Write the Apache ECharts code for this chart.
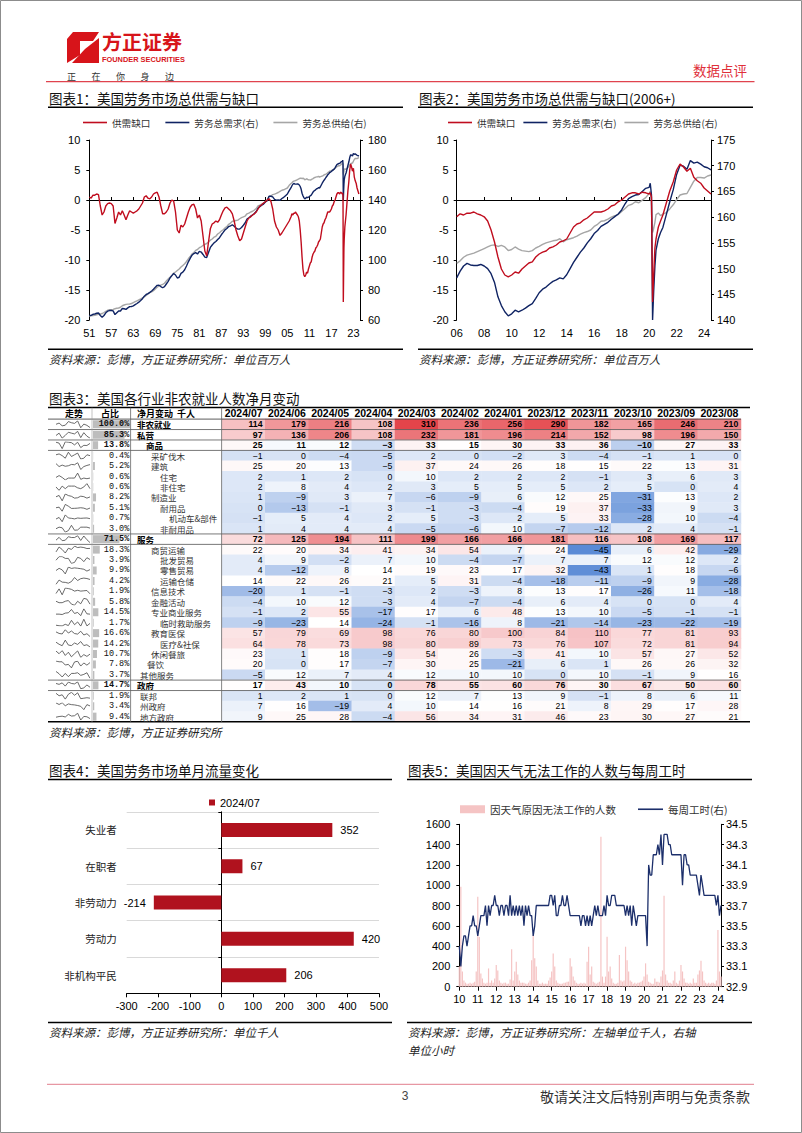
<!DOCTYPE html>
<html><head><meta charset="utf-8"><title>美国劳务市场</title>
<script src="https://cdn.jsdelivr.net/npm/echarts@6/dist/echarts.min.js"></script>
<style>html,body{margin:0;padding:0;background:#fff;}#page{width:802px;height:1133px;}</style>
</head><body><div id="page"></div>
<script>
// ================= DATA =================
// Chart 1 (1951-2005, half-yearly), units: million
const histGap = [0.5,0.3, 0.8,0.8, 1.0,0.9, -1.0,-2.5, -2.0,-1.0, -0.6,-0.5, -0.6,-1.0, -3.9,-3.0, -2.0,-2.5, -1.8,-2.5,
  -3.3,-2.5, -1.8,-2.0, -2.2,-2.0, -1.8,-1.5, -1.0,-0.5, 0.5,0.7, 0.3,0.2, 0.5,1.0, 1.2,1.3, 0.5,-1.0,
  -2.3,-2.3, -2.0,-1.5, -0.5,0.0, -0.2,-2.0, -5.0,-5.5, -4.2,-4.5, -4.0,-3.0, -2.0,-1.2, -0.8,-0.7, -1.5,-3.0,
  -2.5,-3.5, -6.0,-8.5, -9.3,-7.0, -4.8,-4.0, -3.8,-3.5, -3.7,-3.3, -2.5,-1.8, -1.3,-1.2, -1.5,-1.8, -2.3,-3.5,
  -5.0,-6.0, -6.8,-6.5, -5.5,-4.5, -3.5,-3.0, -2.8,-2.5, -2.3,-2.0, -1.5,-1.0, -0.8,-0.5, -0.3,0.0, 0.2,-0.2,
  -1.5,-3.5, -4.5,-5.0, -5.9,-5.5, -5.0,-4.5, -4.0,-3.5];
const histDemand = [63.0,63.1, 63.8,64.0, 64.5,64.7, 63.0,61.8, 63.0,64.8, 65.9,66.3, 66.3,66.1, 63.6,64.8, 66.0,66.0, 67.7,67.5,
  67.1,68.1, 68.9,69.0, 69.4,70.2, 71.0,71.9, 73.0,74.2, 75.9,77.0, 77.6,78.4, 79.3,80.5, 81.9,83.1, 83.2,82.3,
  81.5,82.2, 84.0,85.8, 88.0,89.6, 91.0,90.0, 88.0,88.5, 91.1,91.9, 93.5,96.0, 98.8,101.1, 103.2,104.3, 104.9,104.0,
  105.7,105.3, 103.7,101.9, 101.7,105.0, 108.4,110.0, 111.4,112.3, 113.6,114.9, 116.8,118.4, 120.1,121.0, 122.3,122.8, 123.5,122.5,
  121.3,120.6, 120.7,121.7, 123.2,124.8, 127.3,128.2, 129.2,130.0, 131.0,132.3, 134.5,135.6, 136.5,137.3, 138.7,139.6, 142.5,142.5,
  142.1,140.4, 139.9,140.0, 139.9,141.0, 141.8,142.9, 144.0,146.3];
const histSupply = [62.5,62.8, 63.0,63.2, 63.5,63.8, 64.0,64.3, 65.0,65.8, 66.5,66.8, 66.9,67.1, 67.5,67.8, 68.0,68.5, 69.5,70.0,
  70.4,70.6, 70.7,71.0, 71.6,72.2, 72.8,73.4, 74.0,74.7, 75.4,76.3, 77.3,78.2, 78.8,79.5, 80.7,81.8, 82.7,83.3,
  83.8,84.5, 86.0,87.3, 88.5,89.6, 91.2,92.0, 93.0,94.0, 95.3,96.4, 97.5,99.0, 100.8,102.3, 104.0,105.0, 106.4,107.0,
  108.2,108.8, 109.7,110.4, 111.0,112.0, 113.2,114.0, 115.2,115.8, 117.3,118.2, 119.3,120.2, 121.4,122.2, 123.8,124.6, 125.8,126.0,
  126.3,126.6, 127.5,128.2, 128.7,129.3, 130.8,131.2, 132.0,132.5, 133.3,134.3, 136.0,136.6, 137.3,137.8, 139.0,139.6, 142.3,142.7,
  143.6,143.9, 144.4,145.0, 145.8,146.5, 146.8,147.4, 148.0,149.8];
// Chart 2 (2006+)
const recYears = [2006,2006.25,2006.5,2006.75, 2007,2007.25,2007.5,2007.75, 2008,2008.25,2008.5,2008.75, 2009,2009.25,2009.5,2009.75,
  2010,2010.25,2010.5,2010.75, 2011,2011.25,2011.5,2011.75, 2012,2012.25,2012.5,2012.75, 2013,2013.25,2013.5,2013.75,
  2014,2014.25,2014.5,2014.75, 2015,2015.25,2015.5,2015.75, 2016,2016.25,2016.5,2016.75, 2017,2017.25,2017.5,2017.75,
  2018,2018.25,2018.5,2018.75, 2019,2019.25,2019.5,2019.75,
  2020,2020.08,2020.17,2020.25,2020.33,2020.42,2020.5,2020.67,2020.83,
  2021,2021.25,2021.5,2021.75, 2022,2022.25,2022.5,2022.75, 2023,2023.25,2023.5,2023.75, 2024,2024.25,2024.5];
const recGap = [-2.8,-2.3,-2.5,-2.2, -2.2,-2.0,-2.3,-2.5, -2.8,-3.5,-5.0,-7.0, -9.5,-11.5,-12.5,-12.8,
  -12.5,-12.0,-12.2,-11.5, -11.0,-10.5,-10.3,-9.5, -9.0,-8.7,-8.5,-8.0, -7.8,-7.5,-7.0,-6.8,
  -6.5,-5.5,-4.5,-4.0, -3.8,-3.3,-3.0,-2.5, -2.0,-2.0,-2.0,-1.8, -1.5,-1.0,-0.8,-0.3,
  0.0,0.5,1.0,1.2, 1.2,1.0,1.3,1.2,
  1.0,1.2,0.5,-17.0,-12.5,-8.0,-6.5,-4.5,-3.5,
  -2.5,-0.5,1.5,3.0, 5.0,6.0,5.5,4.8, 5.3,3.8,3.2,2.8, 2.0,1.5,1.0];
const recDemand = [148.2,149.5,150.5,151.0, 150.7,150.6,150.6,150.8, 150.5,150.0,149.0,147.3, 144.5,142.8,141.6,140.8,
  141.2,141.9,141.6,141.9, 142.3,142.8,143.2,144.2, 145.3,146.0,146.4,147.0, 147.5,147.8,148.2,148.0,
  148.8,150.0,151.2,152.2, 153.2,154.0,155.0,155.8, 156.8,157.4,158.2,158.6, 159.0,159.6,160.1,160.6,
  161.4,162.6,163.6,164.0, 164.3,164.4,165.0,165.6,
  165.8,166.6,164.3,140.0,145.5,150.5,153.6,155.8,157.0,
  158.0,160.5,163.0,165.3, 168.3,170.1,169.9,169.3, 171.0,170.5,170.7,170.3, 169.8,169.6,169.2];
const recSupply = [151.0,151.5,152.2,152.6, 152.8,153.0,153.3,153.6, 153.9,154.2,154.5,154.6, 154.3,154.5,154.2,153.5,
  153.7,154.2,153.8,153.5, 153.4,153.3,153.5,154.0, 154.3,154.7,155.0,155.2, 155.4,155.5,155.8,155.2,
  155.6,155.8,156.0,156.3, 156.7,157.0,157.2,157.5, 158.2,158.6,159.2,159.3, 159.6,160.0,160.3,160.5,
  161.1,161.7,162.3,162.5, 163.0,162.8,163.3,163.8,
  164.6,165.0,163.2,157.0,157.8,159.0,160.5,160.8,160.3,
  160.6,160.9,161.6,162.4, 163.4,164.3,164.5,164.6, 165.8,167.0,167.7,167.7, 167.6,168.0,168.2];

// Table 3: non-farm payroll net monthly change (thousand)
const tableMonths = ['2024/07','2024/06','2024/05','2024/04','2024/03','2024/02','2024/01','2023/12','2023/11','2023/10','2023/09','2023/08'];
const rowNames = ['非农就业','私营','商品','采矿伐木','建筑','住宅','非住宅','制造业','耐用品','机动车&部件','非耐用品',
  '服务','商贸运输','批发贸易','零售贸易','运输仓储','信息技术','金融活动','专业商业服务','临时救助服务','教育医保','医疗&社保',
  '休闲餐旅','餐饮','其他服务','政府','联邦','州政府','地方政府'];
const rowShares = [100.0,85.3,13.8,0.4,5.2,0.6,0.6,8.2,5.1,0.7,3.0,71.5,18.3,3.9,9.9,4.2,1.9,5.8,14.5,1.7,16.6,14.2,10.7,7.8,3.7,14.7,1.9,3.4,9.4];
const netChange = [
  [114,179,216,108,310,236,256,290,182,165,246,210],
  [97,136,206,108,232,181,196,214,152,98,196,150],
  [25,11,12,-3,33,15,30,33,36,-10,27,33],
  [-1,0,-4,-5,2,0,-2,3,-4,-1,1,0],
  [25,20,13,-5,37,24,26,18,15,22,13,31],
  [2,1,2,0,10,2,2,2,-1,3,6,3],
  [2,8,4,2,3,5,5,5,2,5,0,4],
  [1,-9,3,7,-6,-9,6,12,25,-31,13,2],
  [0,-13,-1,3,-1,-3,-4,19,37,-33,9,3],
  [-1,5,4,2,5,-3,2,5,33,-28,10,-4],
  [1,4,4,4,-5,-6,10,-7,-12,2,4,-1],
  [72,125,194,111,199,166,166,181,116,108,169,117],
  [22,20,34,41,34,54,7,24,-45,6,42,-29],
  [4,9,-2,7,10,-4,-7,7,7,12,12,2],
  [4,-12,8,14,19,23,17,32,-43,1,18,-6],
  [14,22,26,21,5,31,-4,-18,-11,-9,9,-28],
  [-20,1,-1,-3,2,-3,8,13,17,-26,11,-18],
  [-4,10,12,-3,4,-7,-4,6,4,0,0,4],
  [-1,2,55,-17,17,6,48,13,10,-5,-1,-1],
  [-9,-23,14,-24,-1,-16,8,-21,-14,-23,-22,-19],
  [57,79,69,98,76,80,100,84,110,77,81,93],
  [64,78,73,98,80,89,73,76,107,72,81,94],
  [23,1,18,-9,54,26,-3,41,10,57,27,52],
  [20,0,17,-7,30,25,-21,6,1,26,26,32],
  [-5,12,7,4,12,10,10,0,10,-1,9,16],
  [17,43,10,0,78,55,60,76,30,67,50,60],
  [1,2,1,0,12,7,13,9,-1,8,6,11],
  [7,16,-19,4,10,14,16,21,8,29,17,28],
  [9,25,28,-4,56,34,31,46,23,30,27,21]
];

// Chart 4: single-month labour flows 2024/07 (thousand)
const flowCats = ['失业者','在职者','非劳动力','劳动力','非机构平民'];
const flowVals = [352,67,-214,420,206];

// Chart 5: monthly 2010/01 - 2024/03
const weatherAbsent = [
  200,985,150,60,40,30,30,40,30,40,50,150,
  887,490,130,80,40,30,40,180,40,60,40,80,
  213,160,60,40,30,40,40,30,30,70,368,60,
  150,246,120,60,40,40,40,30,30,40,60,260,
  509,280,200,60,30,30,40,30,30,30,60,90,
  150,328,200,60,40,30,30,30,40,40,50,50,
  280,200,100,60,40,30,30,40,30,40,30,246,
  394,120,200,50,40,30,40,50,1478,100,40,100,
  493,150,200,80,40,30,30,40,312,60,50,60,
  394,260,150,60,50,30,40,30,40,40,50,60,
  100,230,120,50,40,30,30,80,50,50,40,100,
  160,897,120,60,40,40,30,60,150,40,30,60,
  213,150,80,40,40,30,40,30,80,40,40,120,
  160,256,150,60,40,30,40,30,40,40,30,60,
  558,150,100];
const weeklyHours = [
  33.3,33.1,33.3,33.4,33.4,33.3,33.4,33.5,33.5,33.6,33.5,33.5,
  33.4,33.5,33.6,33.6,33.6,33.7,33.5,33.7,33.6,33.7,33.7,33.8,
  33.7,33.7,33.6,33.7,33.7,33.6,33.7,33.7,33.6,33.8,33.6,33.7,
  33.6,33.7,33.6,33.7,33.6,33.7,33.5,33.7,33.6,33.7,33.6,33.6,
  33.4,33.5,33.7,33.7,33.7,33.7,33.7,33.7,33.7,33.7,33.7,33.8,
  33.8,33.7,33.8,33.6,33.6,33.7,33.7,33.8,33.7,33.7,33.8,33.7,
  33.6,33.6,33.6,33.6,33.6,33.6,33.6,33.5,33.6,33.6,33.5,33.6,
  33.5,33.6,33.5,33.6,33.7,33.6,33.7,33.6,33.6,33.6,33.7,33.6,
  33.8,33.7,33.7,33.8,33.8,33.8,33.7,33.7,33.7,33.7,33.7,33.7,
  33.6,33.7,33.6,33.7,33.5,33.7,33.6,33.5,33.6,33.6,33.6,33.6,
  33.6,33.6,33.3,34.1,34.0,34.0,34.2,34.2,34.2,34.3,34.2,34.4,
  34.1,34.4,34.4,34.4,34.3,34.3,34.2,34.2,34.2,34.2,34.2,34.2,
  34.2,33.9,34.2,34.2,34.1,34.1,34.0,34.0,34.0,34.0,34.0,33.9,
  33.8,34.0,33.9,33.8,33.8,33.8,33.8,33.8,33.8,33.8,33.8,33.7,
  33.8,33.6,33.7];

// ================= RENDER =================
const FN = 'Liberation Sans';
const FC = 'Noto Sans CJK SC';
const RED = '#c00d1e', NAVY = '#0f2363', GREY = '#a6a6a6';

const histYears = [];
for (let y = 1951; y < 2006; y += 0.5) histYears.push(y);
const c1Years = histYears.concat(recYears);
const zip = (xs, ys) => xs.map((x, i) => [x, ys[i]]);

const chartMonths = [];
for (let y = 2010; y <= 2024; y++) for (let m = 1; m <= 12; m++) {
  if (chartMonths.length < weeklyHours.length) chartMonths.push(y + '/' + (m < 10 ? '0' + m : m));
}

const grids = [], xAxes = [], yAxes = [], series = [];
function addGrid(g) { grids.push(Object.assign({ containLabel: false, outerBoundsMode: 'none' }, g)); return grids.length - 1; }
const blackLine = { color: '#000', width: 1 };
const numLabel = { fontSize: 11, color: '#000', fontFamily: FN };
const plain = v => String(v);

// ---------- Chart 1 & 2 (twin builder) ----------
function dualChart(box, xmin, xmax, xint, yR, years, gap, dem, sup, lMargin, rMargin) {
  const g = addGrid(box);
  const xa = xAxes.length;
  xAxes.push({ gridIndex: g, type: 'value', min: xmin, max: xmax, interval: xint, position: 'bottom',
    axisLine: { show: false, onZero: false }, axisTick: { show: false }, splitLine: { show: false },
    axisLabel: Object.assign({ showMaxLabel: false, margin: 7, formatter: v => String(Math.round(v)).slice(2) }, numLabel) });
  xAxes.push({ gridIndex: g, type: 'value', min: xmin, max: xmax, interval: xint, position: 'bottom',
    axisLine: { show: true, onZero: true, lineStyle: blackLine }, axisTick: { show: true, inside: true, length: 3, lineStyle: blackLine },
    axisLabel: { show: false }, splitLine: { show: false } });
  const ya = yAxes.length;
  yAxes.push({ gridIndex: g, type: 'value', min: -20, max: 10, interval: 5, position: 'left',
    axisLine: { show: true, onZero: false, lineStyle: blackLine }, axisTick: { show: true, length: 3, lineStyle: blackLine },
    splitLine: { show: false }, axisLabel: Object.assign({ margin: lMargin, formatter: plain }, numLabel) });
  yAxes.push({ gridIndex: g, type: 'value', min: yR[0], max: yR[1], interval: yR[2], position: 'right',
    axisLine: { show: true, onZero: false, lineStyle: blackLine }, axisTick: { show: true, length: 3, lineStyle: blackLine },
    splitLine: { show: false }, axisLabel: Object.assign({ margin: rMargin, formatter: plain }, numLabel) });
  const common = { type: 'line', xAxisIndex: xa, showSymbol: false, symbol: 'none', silent: true };
  series.push(Object.assign({ name: '劳务总供给(右)', yAxisIndex: ya + 1, data: zip(years, sup), z: 2,
    lineStyle: { color: GREY, width: 1.4 }, itemStyle: { color: GREY } }, common));
  series.push(Object.assign({ name: '劳务总需求(右)', yAxisIndex: ya + 1, data: zip(years, dem), z: 3,
    lineStyle: { color: NAVY, width: 1.4 }, itemStyle: { color: NAVY } }, common));
  series.push(Object.assign({ name: '供需缺口', yAxisIndex: ya, data: zip(years, gap), z: 4,
    lineStyle: { color: RED, width: 1.4 }, itemStyle: { color: RED } }, common));
}
dualChart({ left: 89.3, top: 140, width: 270.7, height: 180 }, 1951, 2024.8, 6, [60, 180, 20],
  c1Years, histGap.concat(recGap), histDemand.concat(recDemand), histSupply.concat(recSupply), 9, 8);
dualChart({ left: 456.7, top: 140, width: 254.3, height: 180 }, 2006, 2024.5, 2, [140, 175, 5],
  recYears, recGap, recDemand, recSupply, 8, 6);

// ---------- Table 3 ----------
const ROW_TOP = 419.1, ROW_H = 10.44, NR = rowNames.length;
const boldRows = [0, 1, 2, 11, 25];
const rowX = [137,137,146,151,151,160,160,151,160,169,160,137,151,160,160,160,151,151,151,160,151,160,151,147,140,137,140,140,140];

const gH = addGrid({ left: 222, top: ROW_TOP, width: 519, height: NR * ROW_H });
const xH = xAxes.length;
xAxes.push({ gridIndex: gH, type: 'category', data: tableMonths, position: 'top',
  axisLine: { show: false }, axisTick: { show: false }, splitLine: { show: false },
  axisLabel: { interval: 0, margin: 0.5, fontSize: 10.5, fontWeight: 'bold', color: '#000', fontFamily: FN } });
const yH = yAxes.length;
yAxes.push({ gridIndex: gH, type: 'category', data: rowNames, inverse: true, show: false });
const hmData = [];
netChange.forEach((row, r) => row.forEach((v, c) => {
  const item = { value: [c, r, v] };
  if (boldRows.indexOf(r) >= 0) item.label = { fontWeight: 'bold' };
  hmData.push(item);
}));
const hmIndex = series.length;
series.push({ name: 'table', type: 'heatmap', xAxisIndex: xH, yAxisIndex: yH, data: hmData, silent: true,
  itemStyle: { borderWidth: 0 },
  label: { show: true, position: 'insideRight', distance: 3, fontSize: 8.7, lineHeight: 10, color: '#000', fontFamily: FN,
    formatter: p => String(p.value[2]).replace('-', '−') } });

// share bars
const gS = addGrid({ left: 93, top: ROW_TOP, width: 37, height: NR * ROW_H });
const xS = xAxes.length;
xAxes.push({ gridIndex: gS, type: 'value', min: 0, max: 100, show: false });
const yS = yAxes.length;
yAxes.push({ gridIndex: gS, type: 'category', data: rowNames, inverse: true, show: false });
series.push({ name: 'share', type: 'bar', xAxisIndex: xS, yAxisIndex: yS, data: rowShares, barWidth: 8, silent: true, z: 1,
  itemStyle: { color: '#bdbdbd' } });

// sparklines
rowNames.forEach((nm, r) => {
  const g = addGrid({ left: 56, top: ROW_TOP + r * ROW_H + 1.8, width: 34, height: ROW_H - 3.6 });
  const xi = xAxes.length;
  xAxes.push({ gridIndex: g, type: 'category', data: tableMonths.slice().reverse(), boundaryGap: false, show: false });
  const yi = yAxes.length;
  yAxes.push({ gridIndex: g, type: 'value', scale: true, min: 'dataMin', max: 'dataMax', show: false });
  series.push({ name: 'spark' + r, type: 'line', xAxisIndex: xi, yAxisIndex: yi, data: netChange[r].slice().reverse(),
    showSymbol: false, symbol: 'none', silent: true, lineStyle: { color: '#444', width: 0.8 } });
});

// ---------- Chart 4 ----------
const g4 = addGrid({ left: 126.7, top: 811.8, width: 252.3, height: 181.5 });
const x4 = xAxes.length;
xAxes.push({ gridIndex: g4, type: 'value', min: -300, max: 500, interval: 100, position: 'bottom',
  axisLine: { show: true, onZero: false, lineStyle: blackLine }, axisTick: { show: true, length: 4, lineStyle: blackLine },
  splitLine: { show: false }, axisLabel: Object.assign({ margin: 7, formatter: plain }, numLabel) });
const y4 = yAxes.length;
yAxes.push({ gridIndex: g4, type: 'category', data: flowCats, inverse: true, position: 'left',
  axisLine: { show: false, onZero: false }, axisTick: { show: false },
  splitLine: { show: true, lineStyle: { color: '#d9d9d9', width: 1 } },
  axisLabel: { margin: 10, fontSize: 10.5, color: '#222', fontFamily: FC } });
yAxes.push({ gridIndex: g4, type: 'category', data: flowCats, inverse: true, position: 'left',
  axisLine: { show: true, onZero: true, lineStyle: blackLine }, axisTick: { show: true, length: 3, lineStyle: blackLine },
  splitLine: { show: false }, axisLabel: { show: false } });
series.push({ name: '2024/07', type: 'bar', xAxisIndex: x4, yAxisIndex: y4, barWidth: 14, silent: true,
  itemStyle: { color: '#b0121e' },
  label: { show: true, distance: 8, fontSize: 11, color: '#000', fontFamily: FN },
  data: flowVals.map(v => ({ value: v, label: { position: v < 0 ? 'left' : 'right' } })) });

// ---------- Chart 5 ----------
const g5 = addGrid({ left: 459.3, top: 824.3, width: 261.7, height: 162.4 });
const x5 = xAxes.length;
const janOnly = (i) => i % 12 === 0;
xAxes.push({ gridIndex: g5, type: 'category', data: chartMonths, boundaryGap: false, position: 'bottom',
  axisLine: { show: true, onZero: false, lineStyle: blackLine },
  axisTick: { show: true, length: 4, interval: janOnly, lineStyle: blackLine },
  splitLine: { show: false },
  axisLabel: Object.assign({ interval: janOnly, margin: 7, formatter: v => v.slice(2, 4) }, numLabel) });
const y5 = yAxes.length;
yAxes.push({ gridIndex: g5, type: 'value', min: 0, max: 1600, interval: 200, position: 'left',
  axisLine: { show: true, onZero: false, lineStyle: blackLine }, axisTick: { show: true, length: 3, lineStyle: blackLine },
  splitLine: { show: false }, axisLabel: Object.assign({ margin: 9, formatter: plain }, numLabel) });
yAxes.push({ gridIndex: g5, type: 'value', min: 32.9, max: 34.5, interval: 0.2, position: 'right',
  axisLine: { show: true, onZero: false, lineStyle: blackLine }, axisTick: { show: true, length: 3, lineStyle: blackLine },
  splitLine: { show: false }, axisLabel: Object.assign({ margin: 5, formatter: v => v.toFixed(1) }, numLabel) });
series.push({ name: '因天气原因无法工作的人数', type: 'bar', xAxisIndex: x5, yAxisIndex: y5, data: weatherAbsent,
  barWidth: 1.2, silent: true, itemStyle: { color: '#f5c4c4' } });
series.push({ name: '每周工时(右)', type: 'line', xAxisIndex: x5, yAxisIndex: y5 + 1, data: weeklyHours,
  showSymbol: false, symbol: 'none', silent: true, lineStyle: { color: '#1c2f6b', width: 1.3 }, itemStyle: { color: '#1c2f6b' } });

// ---------- Legends ----------
const lgText = { fontSize: 9.6, lineHeight: 11, color: '#333', fontFamily: FC };
const lineItems = ['供需缺口', '劳务总需求(右)', '劳务总供给(右)'].map(n => ({ name: n, icon: 'rect' }));
const legends = [
  { left: 83, top: 117, padding: 0, itemWidth: 24, itemHeight: 1.6, itemGap: 15, textStyle: lgText, selectedMode: false, data: lineItems },
  { left: 448, top: 117, padding: 0, itemWidth: 24, itemHeight: 1.6, itemGap: 8, textStyle: lgText, selectedMode: false, data: lineItems },
  { left: 204, top: 792, itemWidth: 6, itemHeight: 6, textStyle: { fontSize: 11, color: '#000', fontFamily: FN }, selectedMode: false,
    data: [{ name: '2024/07', icon: 'rect' }] },
  { left: 455, top: 799, itemWidth: 25, itemHeight: 8, textStyle: { fontSize: 10.5, color: '#333', fontFamily: FC }, selectedMode: false,
    data: [{ name: '因天气原因无法工作的人数', icon: 'rect' }] },
  { left: 633, top: 799, itemWidth: 25, itemHeight: 1.6, textStyle: { fontSize: 10.5, color: '#333', fontFamily: FC }, selectedMode: false,
    data: [{ name: '每周工时(右)', icon: 'rect' }] }
];

// ---------- Graphic (page furniture, table text) ----------
const gfx = [];
function txt(x, y, text, o) {
  o = o || {};
  gfx.push({ type: 'text', x: x, y: y, z: 100, silent: true, style: {
    text: text, fill: o.color || '#222', fontSize: o.size || 12, fontFamily: o.family || FC,
    fontWeight: o.weight || 'normal', fontStyle: o.style || 'normal',
    align: o.align || 'left', verticalAlign: 'middle', textAlign: o.align || 'left', textVerticalAlign: 'middle' } });
}
function ln(x1, y1, x2, y2, color, w) {
  gfx.push({ type: 'line', z: 100, silent: true, shape: { x1: x1, y1: y1, x2: x2, y2: y2 }, style: { stroke: color, lineWidth: w } });
}
// page frame
gfx.push({ type: 'rect', z: 100, silent: true, shape: { x: 0.5, y: 0.5, width: 801, height: 1132 }, style: { fill: 'none', stroke: '#8c8c8c', lineWidth: 1 } });
// logo
gfx.push({ type: 'polygon', z: 100, silent: true, shape: { points: [[73, 32], [99, 32], [93, 41], [80, 41], [80, 55], [67, 63], [67, 39]] }, style: { fill: '#d7141a' } });
gfx.push({ type: 'polygon', z: 100, silent: true, shape: { points: [[99, 38], [99, 63], [72, 63], [85, 49]] }, style: { fill: '#d7141a' } });
txt(102, 41.5, '方正证券', { size: 20, weight: 'bold', color: '#d7141a' });
txt(102, 59.6, 'FOUNDER SECURITIES', { size: 7.4, weight: 'bold', color: '#d7141a', family: FN });
['正', '在', '你', '身', '边'].forEach((c, i) => txt(67 + i * 24.5, 76, c, { size: 9, color: '#333' }));
txt(693, 70, '数据点评', { size: 13.5, color: '#e0303a' });
ln(46, 81.7, 754.5, 81.7, '#e0434e', 1.2);
// titles
txt(49, 98.3, '图表1：美国劳务市场总供需与缺口', { size: 13.5, color: '#111' });
txt(419, 98.3, '图表2：美国劳务市场总供需与缺口(2006+)', { size: 13.5, color: '#111' });
ln(48, 107.3, 403, 107.3, '#000', 1.5);
ln(418, 107.3, 753, 107.3, '#000', 1.5);
ln(48, 349.3, 403, 349.3, '#000', 1.5);
ln(418, 349.3, 753, 349.3, '#000', 1.5);
txt(49, 358.5, '资料来源：彭博，方正证券研究所：单位百万人', { size: 11.5, style: 'italic', color: '#222' });
txt(419, 358.5, '资料来源：彭博，方正证券研究所：单位百万人', { size: 11.5, style: 'italic', color: '#222' });
// table
txt(49, 397.7, '图表3：美国各行业非农就业人数净月变动', { size: 13.5, color: '#111' });
ln(48, 407.6, 750, 407.6, '#000', 1.5);
txt(74, 413.7, '走势', { size: 9, weight: 'bold', align: 'center', color: '#000' });
txt(110, 413.7, '占比', { size: 9, weight: 'bold', align: 'center', color: '#000' });
txt(137, 413.7, '净月变动  千人', { size: 9, weight: 'bold', color: '#000' });
ln(48, ROW_TOP, 741, ROW_TOP, '#333', 0.8);
[1, 2, 3, 11, 12, 25, 26].forEach(k => ln(48, ROW_TOP + k * ROW_H, 741, ROW_TOP + k * ROW_H, '#555', 0.8));
const tBottom = ROW_TOP + NR * ROW_H;
ln(48, tBottom, 750, tBottom, '#000', 1.5);
ln(92, 407.6, 92, tBottom, '#9a9a9a', 0.6);
ln(130.6, 407.6, 130.6, tBottom, '#666', 0.8);
ln(221.6, 407.6, 221.6, tBottom, '#666', 0.8);
rowNames.forEach((nm, r) => {
  const yc = ROW_TOP + (r + 0.5) * ROW_H;
  const b = boldRows.indexOf(r) >= 0;
  txt(129.3, yc, rowShares[r].toFixed(1) + '%', { size: 8.5, family: 'Liberation Mono', align: 'right', weight: b ? 'bold' : 'normal', color: '#111' });
  txt(rowX[r], yc, nm, { size: 8.5, weight: b ? 'bold' : 'normal', color: b ? '#000' : '#333' });
});
txt(49, 732.3, '资料来源：彭博，方正证券研究所', { size: 11.5, style: 'italic', color: '#222' });
// chart 4 & 5 furniture
txt(49, 770, '图表4：美国劳务市场单月流量变化', { size: 13.5, color: '#111' });
txt(408, 770, '图表5：美国因天气无法工作的人数与每周工时', { size: 13.5, color: '#111' });
ln(48, 779.5, 392, 779.5, '#000', 1.5);
ln(407, 779.5, 752, 779.5, '#000', 1.5);
ln(48, 1022.5, 392, 1022.5, '#000', 1.5);
ln(407, 1022.5, 752, 1022.5, '#000', 1.5);
txt(49, 1032, '资料来源：彭博，方正证券研究所：单位千人', { size: 11.5, style: 'italic', color: '#222' });
txt(408, 1032, '资料来源：彭博，方正证券研究所：左轴单位千人，右轴', { size: 11.5, style: 'italic', color: '#222' });
txt(408, 1050, '单位小时', { size: 11.5, style: 'italic', color: '#222' });
// footer
ln(47, 1084.3, 754, 1084.3, '#e27d8c', 1);
txt(405, 1096, '3', { size: 12, color: '#444', family: FN, align: 'center' });
txt(750, 1096, '敬请关注文后特别声明与免责条款', { size: 14, color: '#333', align: 'right' });

const chart = echarts.init(document.getElementById('page'), null, { renderer: 'svg', width: 802, height: 1133 });
chart.setOption({
  animation: false,
  backgroundColor: '#fff',
  textStyle: { fontFamily: FN },
  grid: grids, xAxis: xAxes, yAxis: yAxes, series: series,
  legend: legends,
  visualMap: [{ type: 'continuous', show: false, seriesIndex: hmIndex, dimension: 2, min: -45, max: 310,
    inRange: { color: ['#5a8ad6', '#ffffff', '#fadadb', '#f4b4b7', '#ef8f92', '#e9696e', '#e4444a'] } }],
  graphic: gfx
});
</script></body></html>
